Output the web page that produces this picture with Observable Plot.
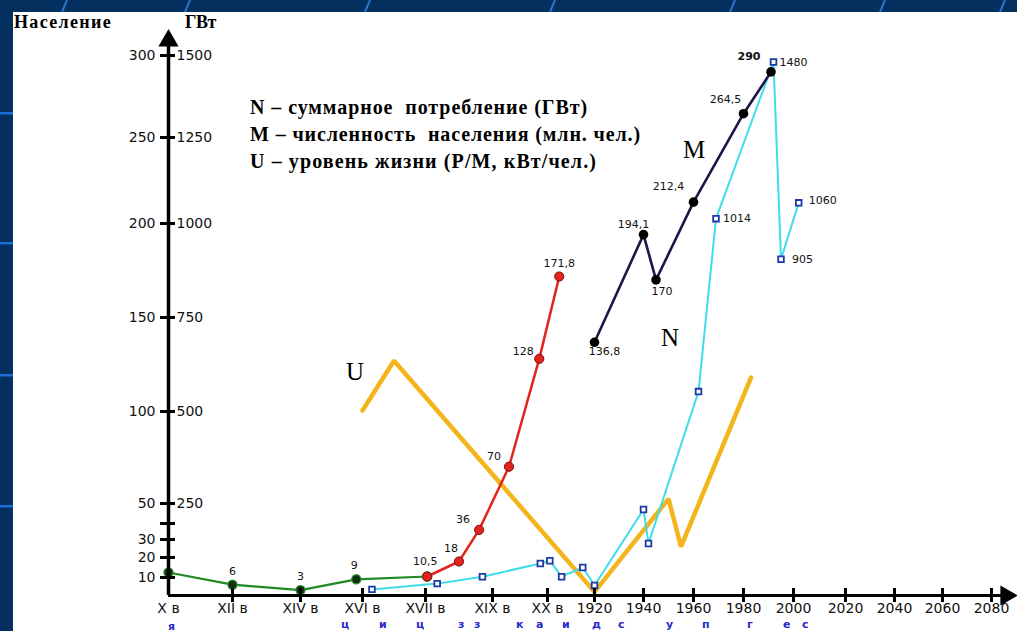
<!DOCTYPE html>
<html><head><meta charset="utf-8">
<script src="https://cdn.jsdelivr.net/npm/d3@7"></script>
<script src="https://cdn.jsdelivr.net/npm/@observablehq/plot@0.6"></script>
<style>
body{margin:0;background:#03305e;width:1017px;height:631px;overflow:hidden;position:relative;}
#panel{position:absolute;left:13px;top:12px;width:1004px;height:619px;background:#fff;}
#chart{position:absolute;left:0;top:0;}
.t{position:absolute;white-space:pre;color:#000;font-family:"Liberation Serif",serif;line-height:1;}
.b{font-weight:bold;}
.bl{position:absolute;color:#2a2ac8;font:bold 11px "DejaVu Sans",sans-serif;line-height:1;}
</style></head><body>
<svg id="bg" width="1017" height="631" style="position:absolute;left:0;top:0"></svg>
<div id="panel"></div>
<div id="chart"></div>
<div id="texts"></div>
<script>
// ---- axis ticks ----
const tickYears = [900,1100,1300,1500,1600,1800,1900,1920,1940,1960,1980,2000,2020,2040,2060,2080];
const tickLabels = ["X в","XII в","XIV в","XVI в","XVII в","XIX в","XX в","1920","1940","1960","1980","2000","2020","2040","2060","2080"];
const popTicks = [10,20,30,40,50,100,150,200,250,300];
const popTickLabels = ["10","20","30","","50","100","150","200","250","300"];
const gwTickLabels = ["","","","","250","500","750","1000","1250","1500"];

// ---- population (млн. чел.) ----
const earlyYears = [900,1100,1300,1480,1605];
const earlyPop = [12.5,6,3,9,10.5];
const growthYears = [1605,1700,1760,1830,1885,1905];
const growthPop = [10.5,18,36,70,128,171.8];
const mYears = [1920,1940,1945,1960,1980,1991];
const mPop = [136.8,194.1,170,212.4,264.5,290];

// ---- N: total consumption (ГВт) ----
const nYears = [1515,1635,1770,1887,1901,1906,1915,1920,1940,1942,1962,1969,1992,1995,2002];
const nGW = [17,33,52,85,92,52,75,28,235,139,553,1014,1480,905,1060];

// ---- U: living standard (relative units on the population scale) ----
const uYears = [1500,1550,1920,1950,1955,1983];
const uLevel = [100.5,127,2,52.5,26,118];

const early = earlyYears.map((year,i)=>({year,v:earlyPop[i]}));
const growth = growthYears.map((year,i)=>({year,v:growthPop[i]}));
const mData = mYears.map((year,i)=>({year,v:mPop[i]}));
const nData = nYears.map((year,i)=>({year,v:nGW[i]/5,gw:nGW[i]}));
const uData = uYears.map((year,i)=>({year,v:uLevel[i]}));
const ticks = tickYears.map((year,i)=>({year,label:tickLabels[i]}));
const yt = popTicks.map((v,i)=>({v,l:popTickLabels[i],r:gwTickLabels[i]}));

const fmt = v => String(v).replace(".", ",");
const lab = (d, dx, dy, o={}) => Plot.text([d], {x:"year", y:"v", text: o.text ?? (q=>fmt(q.v)), dx, dy,
  textAnchor: o.anchor ?? "middle", fontSize: o.size ?? 11, fontWeight: o.weight ?? "normal",
  fontFamily:"DejaVu Sans, sans-serif", fill:"#111"});

const chart = Plot.plot({
  width: 1017, height: 631,
  marginTop:0, marginRight:0, marginBottom:0, marginLeft:0,
  style:{background:"transparent", overflow:"visible"},
  x:{type:"linear", domain: tickYears, range:[168,232,300,362,425,492,547,594,643,693,743,793,845,894,942,991], axis:null},
  y:{type:"linear", domain:[0,10,20,30,40,50,100,150,200,250,300], range:[595,577,557,539,523,503,411,317,223,137,55], axis:null},
  marks:[
    // U line
    Plot.line(uData,{x:"year",y:"v",stroke:"#f3b51b",strokeWidth:4.5,strokeLinejoin:"miter"}),
    // N line
    Plot.line(nData,{x:"year",y:"v",stroke:"#3fdcea",strokeWidth:2}),
    Plot.dot(nData,{x:"year",y:"v",symbol:"square",r:3.2,fill:"#fff",stroke:"#1b3aa8",strokeWidth:1.8}),
    // population
    Plot.line(early,{x:"year",y:"v",stroke:"#1f8a24",strokeWidth:2.2}),
    Plot.line(growth,{x:"year",y:"v",stroke:"#e4231d",strokeWidth:2.5}),
    Plot.line(mData,{x:"year",y:"v",stroke:"#1d1646",strokeWidth:2.6}),
    Plot.dot(early,{x:"year",y:"v",r:4.6,fill:"#123012",stroke:"#2a9a2a",strokeWidth:1.2}),
    Plot.dot(growth,{x:"year",y:"v",r:4.6,fill:"#e4231d",stroke:"#7a1010",strokeWidth:1}),
    Plot.dot(mData,{x:"year",y:"v",r:4.8,fill:"#000"}),
    // axes
    Plot.ruleY([0],{x1:900,x2:2085,stroke:"#000",strokeWidth:3}),
    Plot.ruleX([900],{y1:0,y2:306,stroke:"#000",strokeWidth:3.5}),
    Plot.dot([{year:900,v:309}],{x:"year",y:"v",symbol:"triangle",r:7.5,fill:"#000"}),
    Plot.dot([{year:2086,v:0}],{x:"year",y:"v",symbol:"triangle",r:7.5,fill:"#000",rotate:90}),
    Plot.ruleX(ticks.slice(1),{x:"year",y1:0,y2:0,insetTop:-7,insetBottom:-7,stroke:"#000",strokeWidth:3}),
    Plot.ruleY(yt,{y:"v",x1:900,x2:900,insetLeft:-8,insetRight:-7,stroke:"#000",strokeWidth:3}),
    Plot.text(ticks,{x:"year",y:0,text:"label",dy:13,fontSize:14,fontFamily:"DejaVu Sans, sans-serif",fill:"#111"}),
    Plot.text(yt,{x:900,y:"v",text:"l",dx:-13,textAnchor:"end",fontSize:14,fontFamily:"DejaVu Sans, sans-serif",fill:"#111"}),
    Plot.text(yt,{x:900,y:"v",text:"r",dx:8,textAnchor:"start",fontSize:14,fontFamily:"DejaVu Sans, sans-serif",fill:"#111"}),
    // value labels
    lab(early[1],0,-13), lab(early[2],0,-14), lab(early[3],-2,-14), lab(early[4],-2,-15),
    lab(growth[1],-8,-13), lab(growth[2],-16,-10), lab(growth[3],-15,-10), lab(growth[4],-16,-7), lab(growth[5],0,-13),
    lab(mData[0],10,9), lab(mData[1],-10,-10), lab(mData[2],6,12), lab(mData[3],-25,-16), lab(mData[4],-18,-14),
    lab(mData[5],-22,-15,{weight:"bold"}),
    lab(nData[11],7,0,{anchor:"start",text:q=>String(q.gw)}),
    lab(nData[12],6,0,{anchor:"start",text:q=>String(q.gw)}),
    lab(nData[13],11,0,{anchor:"start",text:q=>String(q.gw)}),
    lab(nData[14],10,-2,{anchor:"start",text:q=>String(q.gw)})
  ]
});
document.getElementById("chart").appendChild(chart);

// background decoration
const bg = d3.select("#bg");
[113,243,375,506].forEach(y=>bg.append("rect").attr("x",0).attr("y",y-1).attr("width",13).attr("height",2.5).attr("fill","#1d6fd6"));
[62,185,365,550,730,880,1000].forEach(x=>bg.append("line").attr("x1",x).attr("y1",12).attr("x2",x+5).attr("y2",0).attr("stroke","#2a74cc").attr("stroke-width",2));

// HTML texts
const texts = [
  {s:"Население", x:14, y:13, size:18, w:98, bold:true},
  {s:"ГВт", x:185, y:13, size:18, w:31, bold:true},
  {s:"N – суммарное  потребление (ГВт)", x:250, y:97, size:20, w:338, bold:true},
  {s:"M – численность  населения (млн. чел.)", x:250, y:124, size:20, w:391, bold:true},
  {s:"U – уровень жизни (Р/М, кВт/чел.)", x:250, y:151, size:20, w:347, bold:true},
  {s:"M", x:683, y:137, size:25},
  {s:"N", x:661, y:325, size:25},
  {s:"U", x:346, y:359, size:25}
];
const host = document.getElementById("texts");
texts.forEach(t=>{
  const d = document.createElement("div");
  d.className = "t" + (t.bold ? " b" : "");
  d.style.left = t.x+"px"; d.style.top = t.y+"px"; d.style.fontSize = t.size+"px";
  d.textContent = t.s;
  host.appendChild(d);
  if (t.w) {
    const w = d.getBoundingClientRect().width;
    d.style.letterSpacing = ((t.w - w) / t.s.length) + "px";
  }
});
const blue = [["я",168,621],["ц",341,619],["и",379,619],["ц",416,619],["з",458,619],["з",474,619],["к",516,619],["а",536,619],["и",562,619],["д",592,619],["с",618,619],["у",666,619],["п",702,619],["г",747,619],["е",783,619],["с",802,619]];
blue.forEach(([s,x,y])=>{const d=document.createElement("div");d.className="bl";d.style.left=x+"px";d.style.top=y+"px";d.textContent=s;host.appendChild(d);});
</script>
</body></html>
